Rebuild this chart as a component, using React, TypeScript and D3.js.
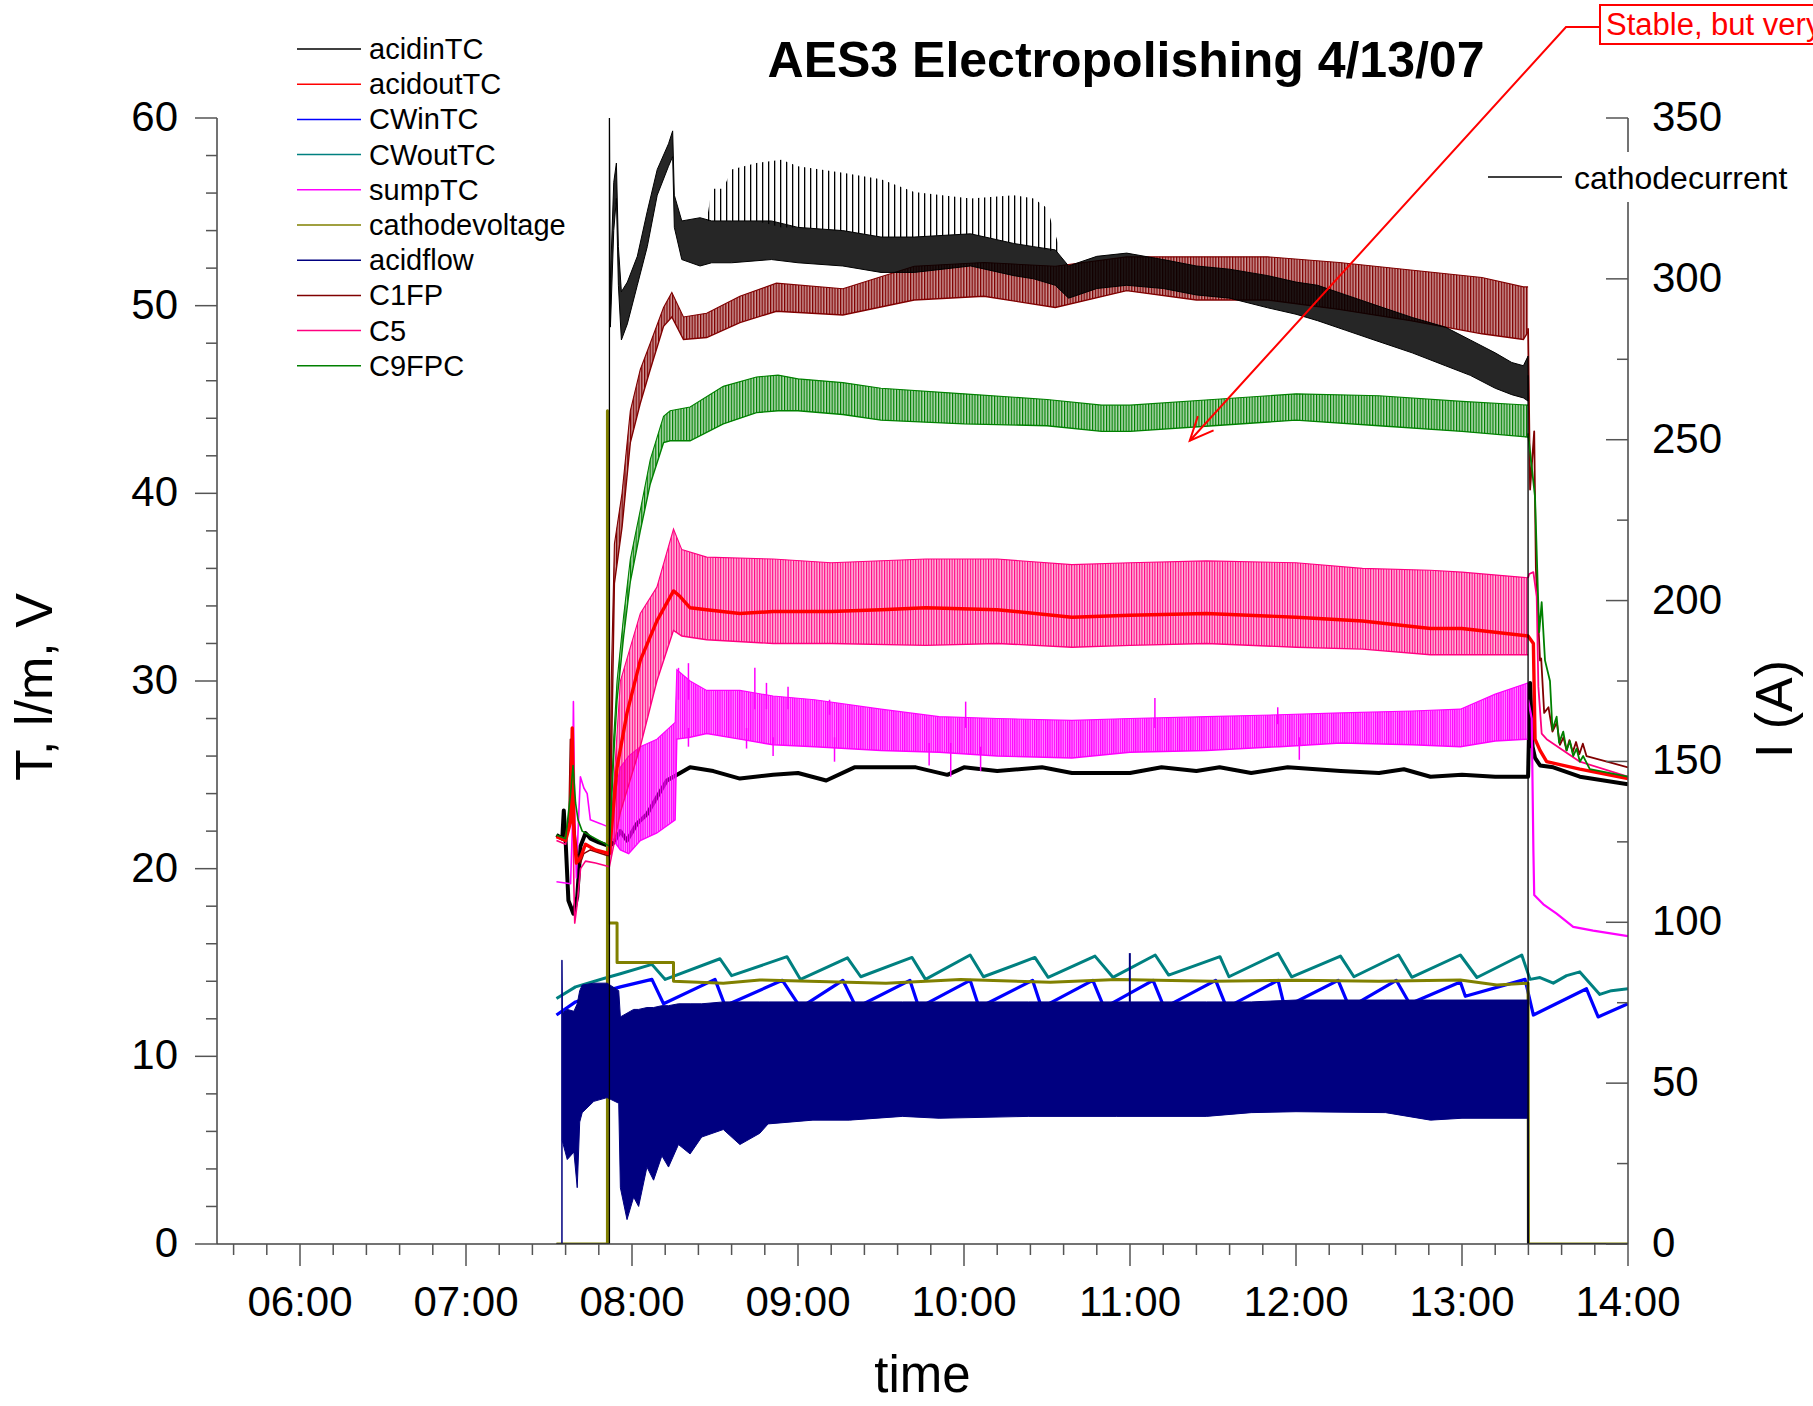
import * as d3 from 'd3';

type Pt = [number, number];
type Band = [number, number, number]; // time (h), low, high

// ---- axes ----
const hourTicks = [6, 7, 8, 9, 10, 11, 12, 13, 14];
const hourLabels = ['06:00', '07:00', '08:00', '09:00', '10:00', '11:00', '12:00', '13:00', '14:00'];
const leftTicks = [0, 10, 20, 30, 40, 50, 60];
const rightTicks = [0, 50, 100, 150, 200, 250, 300, 350];

const legendNames = ['acidinTC', 'acidoutTC', 'CWinTC', 'CWoutTC', 'sumpTC', 'cathodevoltage', 'acidflow', 'C1FP', 'C5', 'C9FPC'];
const legendColors = ['#000000', '#ff0000', '#0000ff', '#008080', '#ff00ff', '#808000', '#000080', '#800000', '#ff0080', '#008000'];

// ---- series (time in decimal hours, left axis unless noted) ----
const acidinTC: Pt[] = [
  [7.545, 21.8], [7.58, 21.6], [7.589, 23.1], [7.6, 21.5], [7.617, 18.3], [7.647, 17.6], [7.67, 18.5],
  [7.69, 21.2], [7.72, 21.9], [7.75, 21.6], [7.8, 21.4], [7.864, 21.2], [7.89, 21.4], [7.93, 22.0],
  [7.97, 21.5], [8.03, 22.4], [8.09, 22.9], [8.15, 23.8], [8.21, 24.7], [8.29, 25.1], [8.35, 25.4],
  [8.49, 25.2], [8.65, 24.8], [8.85, 25.0], [9.0, 25.1], [9.17, 24.7], [9.34, 25.4], [9.71, 25.4],
  [9.9, 25.0], [10.0, 25.4], [10.2, 25.2], [10.47, 25.4], [10.65, 25.1], [11.0, 25.1], [11.19, 25.4],
  [11.4, 25.2], [11.54, 25.4], [11.73, 25.1], [11.95, 25.4], [12.27, 25.2], [12.5, 25.1], [12.65, 25.3],
  [12.81, 24.9], [13.0, 25.0], [13.2, 24.9], [13.398, 24.9], [13.41, 29.9], [13.425, 26.5], [13.44, 25.9],
  [13.47, 25.5], [13.55, 25.4], [13.71, 24.9], [14.0, 24.5]
];

const acidoutTC: Pt[] = [
  [7.545, 21.7], [7.6, 21.5], [7.63, 22.5], [7.64, 27.5], [7.65, 22.0], [7.665, 20.3], [7.69, 20.6],
  [7.72, 21.3], [7.78, 21.0], [7.864, 20.8], [7.87, 21.5], [7.91, 25.4], [7.97, 28.3], [8.05, 31.1],
  [8.15, 33.2], [8.25, 34.8], [8.29, 34.5], [8.35, 33.9], [8.45, 33.8], [8.65, 33.6], [8.85, 33.7],
  [9.2, 33.7], [9.5, 33.8], [9.77, 33.9], [10.2, 33.8], [10.65, 33.4], [11.0, 33.5], [11.46, 33.6],
  [12.0, 33.4], [12.4, 33.2], [12.81, 32.8], [13.0, 32.8], [13.2, 32.6], [13.398, 32.4], [13.43, 32.0],
  [13.44, 26.9], [13.47, 26.3], [13.51, 25.7], [13.71, 25.3], [14.0, 24.8]
];

const cwinTC: Pt[] = [
  [7.545, 12.2], [7.66, 12.9], [7.85, 13.5], [7.93, 13.7], [8.12, 14.1], [8.19, 12.8], [8.5, 14.1],
  [8.56, 12.7], [8.906, 14.05], [9.015, 12.6], [9.27, 14.05], [9.351, 12.6], [9.674, 14.05], [9.728, 12.6],
  [10.037, 14.05], [10.091, 12.6], [10.413, 14.05], [10.467, 12.6], [10.776, 14.05], [10.844, 12.6],
  [11.139, 14.05], [11.206, 12.6], [11.516, 14.05], [11.582, 12.6], [11.892, 14.05], [11.932, 12.6],
  [12.254, 14.05], [12.322, 12.6], [12.604, 14.05], [12.685, 12.8], [12.99, 13.96], [13.02, 13.2],
  [13.38, 14.1], [13.43, 12.2], [13.75, 13.6], [13.82, 12.1], [14.0, 12.8]
];

const cwoutTC: Pt[] = [
  [7.545, 13.08], [7.66, 13.7], [7.85, 14.2], [7.93, 14.4], [8.12, 14.9], [8.2, 14.1], [8.53, 15.2],
  [8.6, 14.3], [8.934, 15.31], [9.015, 14.1], [9.298, 15.25], [9.378, 14.24], [9.687, 15.27], [9.768, 14.1],
  [10.037, 15.4], [10.117, 14.24], [10.427, 15.27], [10.507, 14.21], [10.789, 15.34], [10.897, 14.21],
  [11.152, 15.4], [11.233, 14.33], [11.542, 15.31], [11.596, 14.24], [11.892, 15.49], [11.973, 14.24],
  [12.268, 15.34], [12.349, 14.24], [12.618, 15.4], [12.698, 14.21], [12.99, 15.4], [13.09, 14.2],
  [13.36, 15.4], [13.41, 14.1], [13.47, 14.2], [13.55, 13.9], [13.63, 14.3], [13.71, 14.5], [13.83, 13.3],
  [13.9, 13.5], [14.0, 13.6]
];

const sumpPre: Pt[] = [
  [7.545, 19.3], [7.63, 19.2], [7.64, 22.0], [7.647, 28.9], [7.655, 23.0], [7.665, 19.5], [7.675, 22.0],
  [7.689, 24.9], [7.71, 24.3], [7.73, 24.0], [7.749, 22.6], [7.81, 22.4], [7.864, 22.2]
];
const sumpBand: Band[] = [
  [7.864, 21.8, 22.6], [7.93, 21.0, 25.4], [7.98, 20.8, 26.0], [8.05, 21.5, 26.5], [8.15, 21.9, 26.9],
  [8.26, 22.6, 27.8], [8.27, 26.9, 30.6], [8.35, 27.0, 30.0], [8.45, 27.2, 29.5], [8.65, 26.9, 29.5],
  [8.85, 26.6, 29.2], [9.1, 26.5, 29.0], [9.5, 26.3, 28.5], [9.85, 26.2, 28.1], [10.2, 26.0, 28.0],
  [10.65, 25.9, 27.9], [11.0, 26.2, 28.0], [11.46, 26.3, 28.1], [11.9, 26.5, 28.2], [12.27, 26.7, 28.3],
  [12.7, 26.6, 28.4], [12.99, 26.5, 28.5], [13.2, 26.8, 29.3], [13.398, 26.9, 29.9]
];
const sumpSpikes: Band[] = [
  [8.28, 29.0, 30.7], [8.34, 29.0, 30.95], [8.74, 28.5, 30.7], [8.81, 28.5, 29.9], [8.94, 28.5, 29.7],
  [9.19, 28.2, 29.0], [10.01, 27.5, 28.9], [11.15, 27.5, 29.1], [11.89, 27.7, 28.6], [8.34, 26.5, 27.5],
  [8.69, 26.4, 27.5], [8.85, 26.0, 27.0], [9.22, 25.7, 27.0], [9.79, 25.5, 26.7], [9.92, 24.9, 26.7],
  [10.1, 25.2, 26.5], [12.02, 25.8, 27.0]
];
const sumpPost: Pt[] = [
  [13.398, 29.0], [13.42, 28.0], [13.43, 21.0], [13.435, 18.6], [13.49, 18.1], [13.57, 17.6],
  [13.67, 16.9], [13.79, 16.7], [14.0, 16.4]
];

const cathodevoltage: Pt[] = [
  [7.545, 0], [7.852, 0], [7.852, 44.4], [7.858, 17.1], [7.91, 17.1], [7.91, 15.0], [8.25, 15.0],
  [8.25, 14.0], [8.55, 13.9], [8.77, 14.07], [9.53, 13.9], [9.98, 14.1], [10.52, 13.95], [10.92, 14.1],
  [11.5, 14.0], [12.0, 14.05], [12.5, 14.0], [12.99, 14.07], [13.21, 13.8], [13.398, 13.9], [13.4, 0], [14.0, 0]
];

const acidflowPre: Pt[] = [[7.545, 0], [7.578, 0], [7.578, 15.1], [7.58, 12.3]];
const acidflowBand: Band[] = [
  [7.58, 5.5, 12.3], [7.61, 4.5, 12.5], [7.65, 4.9, 12.4], [7.67, 3.0, 12.8], [7.685, 6.5, 13.5],
  [7.7, 7.0, 13.8], [7.77, 7.6, 13.9], [7.85, 7.8, 13.9], [7.92, 7.5, 13.5], [7.93, 3.0, 12.1],
  [7.97, 1.3, 12.3], [8.01, 2.5, 12.5], [8.04, 2.0, 12.5], [8.09, 4.1, 12.6], [8.13, 3.4, 12.6],
  [8.18, 4.7, 12.7], [8.22, 4.1, 12.7], [8.28, 5.3, 12.8], [8.35, 4.8, 12.8], [8.42, 5.7, 12.8],
  [8.55, 6.1, 12.9], [8.65, 5.3, 12.9], [8.77, 5.9, 12.9], [8.82, 6.4, 12.9], [9.09, 6.6, 12.9],
  [9.31, 6.6, 12.9], [9.63, 6.8, 12.9], [9.85, 6.7, 12.9], [10.39, 6.8, 12.9], [10.92, 6.8, 12.9],
  [11.46, 6.8, 12.9], [11.73, 7.0, 12.9], [12.0, 7.05, 13.0], [12.54, 7.0, 13.0], [12.81, 6.6, 13.0],
  [13.0, 6.7, 13.0], [13.398, 6.7, 13.0]
];
const acidflowPost: Pt[] = [[13.398, 6.7], [13.398, 0], [14.0, 0]];
const acidflowSpike: Pt[] = [[10.999, 12.9], [10.999, 15.5]];

const c1fpPre: Pt[] = [
  [7.545, 21.7], [7.59, 21.5], [7.62, 22.5], [7.629, 26.9], [7.64, 23.5], [7.669, 20.8], [7.689, 20.3],
  [7.709, 20.8], [7.749, 21.0], [7.85, 20.7], [7.864, 20.7]
];
const c1fpBand: Band[] = [
  [7.864, 20.6, 21.0], [7.875, 25.0, 30.0], [7.894, 35.2, 37.3], [7.94, 38.2, 40.0], [7.99, 42.7, 44.4],
  [8.05, 44.8, 46.6], [8.11, 46.6, 48.0], [8.19, 48.9, 49.9], [8.24, 49.4, 50.7], [8.31, 48.2, 49.4],
  [8.45, 48.3, 49.6], [8.65, 49.1, 50.5], [8.87, 49.7, 51.2], [9.27, 49.5, 50.9], [9.7, 50.3, 52.1],
  [10.12, 50.5, 52.3], [10.55, 49.9, 52.1], [10.98, 50.8, 52.6], [11.4, 50.3, 52.6], [11.83, 50.3, 52.6],
  [12.26, 49.8, 52.3], [12.69, 49.2, 51.9], [13.12, 48.5, 51.5], [13.37, 48.2, 51.0], [13.398, 48.6, 51.0]
];
const c1fpPost: Pt[] = [
  [13.398, 48.8], [13.41, 40.2], [13.435, 43.3], [13.445, 36.0], [13.47, 31.1], [13.477, 31.2],
  [13.495, 28.3], [13.521, 28.6], [13.545, 27.3], [13.571, 27.8], [13.59, 26.6], [13.611, 27.0],
  [13.63, 26.3], [13.647, 26.85], [13.667, 26.2], [13.687, 26.75], [13.707, 26.1], [13.728, 26.66],
  [13.75, 26.0], [14.0, 25.4]
];

const c5Pre: Pt[] = [
  [7.545, 21.5], [7.6, 21.3], [7.635, 23.0], [7.642, 26.0], [7.65, 19.0], [7.655, 17.1], [7.668, 18.0],
  [7.69, 20.0], [7.72, 20.4], [7.78, 20.3], [7.864, 20.1]
];
const c5Band: Band[] = [
  [7.864, 20.1, 20.4], [7.88, 20.8, 23.0], [7.93, 23.0, 30.0], [8.05, 26.5, 33.6], [8.15, 30.0, 35.0],
  [8.25, 32.7, 38.1], [8.3, 32.4, 37.0], [8.45, 32.2, 36.6], [8.85, 32.0, 36.5], [9.2, 32.0, 36.3],
  [9.77, 31.9, 36.5], [10.2, 32.0, 36.5], [10.65, 31.8, 36.2], [11.0, 31.9, 36.3], [11.46, 32.0, 36.4],
  [12.0, 31.8, 36.3], [12.4, 31.7, 36.0], [12.81, 31.4, 35.9], [13.0, 31.4, 35.8], [13.398, 31.4, 35.5]
];
const c5Post: Pt[] = [
  [13.398, 35.5], [13.405, 35.7], [13.43, 35.8], [13.45, 34.5], [13.46, 29.7], [13.48, 27.2],
  [13.51, 26.9], [13.71, 25.7], [14.0, 24.9]
];

const c9fpcPre: Pt[] = [
  [7.545, 21.8], [7.6, 21.6], [7.63, 24.0], [7.645, 25.5], [7.66, 23.5], [7.675, 22.6], [7.7, 22.0],
  [7.78, 21.6], [7.864, 21.2]
];
const c9fpcBand: Band[] = [
  [7.864, 21.1, 21.4], [7.89, 26.0, 27.0], [7.91, 29.0, 30.0], [7.95, 32.4, 33.5], [7.99, 35.3, 36.5],
  [8.05, 38.0, 39.1], [8.11, 40.5, 41.8], [8.19, 42.7, 44.1], [8.23, 42.8, 44.4], [8.35, 42.8, 44.6],
  [8.55, 43.7, 45.7], [8.75, 44.3, 46.2], [8.88, 44.4, 46.3], [9.0, 44.4, 46.1], [9.27, 44.2, 45.9],
  [9.5, 43.9, 45.6], [10.0, 43.7, 45.3], [10.5, 43.6, 45.0], [10.83, 43.3, 44.7], [11.0, 43.3, 44.7],
  [11.5, 43.6, 45.0], [12.0, 43.9, 45.3], [12.5, 43.6, 45.2], [13.0, 43.3, 44.9], [13.398, 43.0, 44.7]
];
const c9fpcPost: Pt[] = [
  [13.398, 43.2], [13.44, 39.8], [13.455, 35.4], [13.465, 32.6], [13.48, 34.2], [13.5, 31.1],
  [13.53, 30.0], [13.545, 27.4], [13.57, 28.1], [13.585, 26.7], [13.61, 27.3], [13.63, 26.3],
  [13.65, 26.8], [13.67, 26.0], [13.69, 26.4], [13.71, 25.7], [13.73, 26.0], [13.77, 25.3], [14.0, 24.9]
];

// cathodecurrent, right axis (A)
const currentPre: Pt[] = [[7.545, 0], [7.864, 0], [7.864, 350], [7.868, 300], [7.87, 292]];
const currentBand: Band[] = [
  [7.87, 285, 300], [7.89, 315, 330], [7.906, 325, 336], [7.918, 298, 310], [7.936, 281, 296],
  [7.972, 286, 299], [8.032, 298, 307], [8.092, 310, 321], [8.152, 326, 334], [8.22, 335, 342],
  [8.245, 338, 346], [8.255, 316, 326], [8.3, 306, 318], [8.41, 304, 319], [8.48, 305, 318],
  [8.6, 305, 318], [8.84, 306, 318], [9.0, 305, 316], [9.27, 304, 315], [9.5, 302, 313], [9.7, 302, 313],
  [10.04, 304, 314], [10.3, 301, 311], [10.42, 300, 310], [10.55, 298, 309], [10.63, 294, 304],
  [10.8, 297, 307], [10.98, 298, 308], [11.2, 297, 306], [11.4, 295, 304], [11.6, 294, 303],
  [11.83, 291, 301], [12.0, 289, 299], [12.13, 287, 298], [12.3, 284, 295], [12.47, 281, 292],
  [12.7, 277, 288], [12.9, 273, 285], [13.05, 270, 281], [13.2, 266, 277], [13.3, 264, 274],
  [13.37, 263, 273], [13.398, 262, 276]
];
const currentSpikes: Band[] = [
  [8.45, 318, 318], [8.48, 318, 328], [8.55, 318, 328], [8.6, 318, 334], [8.75, 318, 336], [8.9, 316, 337],
  [9.0, 316, 335], [9.27, 315, 333], [9.5, 313, 331], [9.7, 313, 327], [10.04, 314, 325], [10.3, 311, 326],
  [10.42, 310, 325], [10.5, 309, 322], [10.58, 308, 309]
];
const currentPost: Pt[] = [[13.398, 270], [13.398, 0], [14.0, 0]];

// annotation target (time, left value)
const noteTarget: Pt = [11.36, 42.8];

const FONT = 'Liberation Sans, Arial, Helvetica, sans-serif';

// striped fill that imitates the dense oscillation of the fast-cycling traces
const stripes = [
  { id: 'st-c1', color: '#800000', pitch: 2.8, w: 1.3 },
  { id: 'st-c5', color: '#ff0080', pitch: 2.6, w: 1.1 },
  { id: 'st-c9', color: '#008000', pitch: 2.8, w: 1.2 },
  { id: 'st-sp', color: '#ff00ff', pitch: 2.2, w: 1.2 }
];

export default function App() {
  const L = 217, R = 1628, T = 118, B = 1244;
  const x = d3.scaleLinear().domain([5.5, 14]).range([L, R]);
  const yL = d3.scaleLinear().domain([0, 60]).range([B, T]);
  const yR = d3.scaleLinear().domain([0, 350]).range([B, T]);

  const lineL = d3.line<Pt>().x(d => x(d[0])).y(d => yL(d[1]));
  const lineR = d3.line<Pt>().x(d => x(d[0])).y(d => yR(d[1]));
  const bandL = d3.area<Band>().x(d => x(d[0])).y0(d => yL(d[1])).y1(d => yL(d[2]));
  const bandR = d3.area<Band>().x(d => x(d[0])).y0(d => yR(d[1])).y1(d => yR(d[2]));
  const loL = d3.line<Band>().x(d => x(d[0])).y(d => yL(d[1]));
  const hiL = d3.line<Band>().x(d => x(d[0])).y(d => yL(d[2]));

  const xMinor = d3.range(28, 71).filter(i => i % 5 !== 0).map(i => i / 5);
  const lMinor = d3.range(0, 61, 2).filter(v => v % 10 !== 0);
  const rMinor = d3.range(25, 350, 50);

  const band = (data: Band[], color: string, op: number, pat: string, key: string) => (
    <g key={key}>
      <path d={bandL(data) || ''} fill={color} fillOpacity={op} stroke="none" />
      <path d={bandL(data) || ''} fill={`url(#${pat})`} stroke="none" />
      <path d={loL(data) || ''} fill="none" stroke={color} strokeWidth={1.4} />
      <path d={hiL(data) || ''} fill="none" stroke={color} strokeWidth={1.1} />
    </g>
  );
  const ln = (data: Pt[], color: string, w: number, key: string, right = false) => (
    <path key={key} d={(right ? lineR(data) : lineL(data)) || ''} fill="none" stroke={color}
      strokeWidth={w} strokeLinejoin="round" />
  );

  // annotation geometry
  const tipX = x(noteTarget[0]);
  const tipY = yL(noteTarget[1]);
  const elbowX = 1566, elbowY = 27;
  const ang = Math.atan2(tipY - elbowY, tipX - elbowX);
  const head = 26, spread = 0.42;
  const h1 = [tipX - head * Math.cos(ang - spread), tipY - head * Math.sin(ang - spread)];
  const h2 = [tipX - head * Math.cos(ang + spread), tipY - head * Math.sin(ang + spread)];

  return (
    <div style={{ position: 'absolute', left: 0, top: 0 }}>
      <svg xmlns="http://www.w3.org/2000/svg" width={1813} height={1406} style={{ display: 'block', background: '#fff' }}
        fontFamily={FONT}>
        <defs>
          <clipPath id="plot">
            <rect x={L} y={T} width={R - L} height={B - T} />
          </clipPath>
          <pattern id="spk" width={6} height={20} patternUnits="userSpaceOnUse">
            <rect x={0} y={0} width={1.3} height={20} fill="#000" />
          </pattern>
          {stripes.map(s => (
            <pattern key={s.id} id={s.id} width={s.pitch} height={20} patternUnits="userSpaceOnUse">
              <rect x={0} y={0} width={s.w} height={20} fill={s.color} />
            </pattern>
          ))}
        </defs>

        <g clipPath="url(#plot)">
          {ln(acidinTC, '#000000', 4, 'ain')}
          {ln(cwinTC, '#0000ff', 3.2, 'cwin')}
          {ln(cwoutTC, '#008080', 3, 'cwout')}
          {ln(sumpPre, '#ff00ff', 1.6, 'sp0')}
          {band(sumpBand, '#ff00ff', 0.45, 'st-sp', 'sp1')}
          {sumpSpikes.map((s, i) => (
            <line key={'ss' + i} x1={x(s[0])} x2={x(s[0])} y1={yL(s[1])} y2={yL(s[2])} stroke="#ff00ff" strokeWidth={1.5} />
          ))}
          {ln(sumpPost, '#ff00ff', 2.2, 'sp2')}
          {ln(cathodevoltage, '#808000', 3, 'cv')}
          {ln(acidflowPre, '#000080', 1.5, 'af0')}
          <path d={bandL(acidflowBand) || ''} fill="#000080" stroke="#000080" strokeWidth={1} />
          {ln(acidflowPost, '#000080', 1.5, 'af2')}
          {ln(acidflowSpike, '#000080', 2, 'af3')}
          {ln(c1fpPre, '#800000', 1.6, 'c10')}
          {band(c1fpBand, '#800000', 0.4, 'st-c1', 'c11')}
          {ln(c1fpPost, '#800000', 1.8, 'c12')}
          {ln(c5Pre, '#ff0080', 1.6, 'c50')}
          {band(c5Band, '#ff0080', 0.28, 'st-c5', 'c51')}
          {ln(c5Post, '#ff0080', 1.8, 'c52')}
          {ln(acidoutTC, '#ff0000', 3.4, 'aout')}
          {ln(c9fpcPre, '#008000', 1.6, 'c90')}
          {band(c9fpcBand, '#008000', 0.3, 'st-c9', 'c91')}
          {ln(c9fpcPost, '#008000', 1.8, 'c92')}
          {/* cathodecurrent on right axis */}
          <path d={bandR(currentSpikes) || ''} fill="url(#spk)" stroke="none" />
          <path d={bandR(currentBand) || ''} fill="#000" fillOpacity={0.85} stroke="#000" strokeWidth={1} />
          {ln(currentPre, '#000000', 1.3, 'cc0', true)}
          {ln(currentPost, '#000000', 1.3, 'cc2', true)}
        </g>

        {/* left axis */}
        <line x1={L} x2={L} y1={T} y2={B} stroke="#444" strokeWidth={1.5} />
        {leftTicks.map(v => (
          <g key={'lt' + v}>
            <line x1={L - 22} x2={L} y1={yL(v)} y2={yL(v)} stroke="#555" strokeWidth={1.5} />
            <text x={178} y={yL(v) + 13} fontSize={42} textAnchor="end">{v}</text>
          </g>
        ))}
        {lMinor.map(v => (
          <line key={'lm' + v} x1={L - 11} x2={L} y1={yL(v)} y2={yL(v)} stroke="#555" strokeWidth={1.5} />
        ))}

        {/* right axis */}
        <line x1={R} x2={R} y1={T} y2={B} stroke="#444" strokeWidth={1.5} />
        {rightTicks.map(v => (
          <g key={'rt' + v}>
            <line x1={R - 22} x2={R} y1={yR(v)} y2={yR(v)} stroke="#555" strokeWidth={1.5} />
            <text x={1652} y={yR(v) + 13} fontSize={42}>{v}</text>
          </g>
        ))}
        {rMinor.map(v => (
          <line key={'rm' + v} x1={R - 11} x2={R} y1={yR(v)} y2={yR(v)} stroke="#555" strokeWidth={1.5} />
        ))}

        {/* bottom axis */}
        <line x1={L} x2={R} y1={B} y2={B} stroke="#444" strokeWidth={1.5} />
        {hourTicks.map((h, i) => (
          <g key={'xt' + h}>
            <line x1={x(h)} x2={x(h)} y1={B} y2={B + 22} stroke="#555" strokeWidth={1.5} />
            <text x={x(h)} y={1316} fontSize={42} textAnchor="middle">{hourLabels[i]}</text>
          </g>
        ))}
        {xMinor.map(h => (
          <line key={'xm' + h} x1={x(h)} x2={x(h)} y1={B} y2={B + 11} stroke="#555" strokeWidth={1.5} />
        ))}

        {/* axis titles */}
        <text x={(L + R) / 2} y={1392} fontSize={51} textAnchor="middle">time</text>
        <text transform="translate(52,687) rotate(-90)" fontSize={52} textAnchor="middle">T, l/m, V</text>
        <text transform="translate(1792,709) rotate(-90)" fontSize={52} textAnchor="middle">I (A)</text>

        {/* title */}
        <text x={1126} y={77} fontSize={50} fontWeight="bold" textAnchor="middle">AES3 Electropolishing 4/13/07</text>

        {/* left legend */}
        {legendNames.map((n, i) => (
          <g key={'lg' + n}>
            <line x1={297} x2={361} y1={49 + i * 35.2} y2={49 + i * 35.2} stroke={legendColors[i]} strokeWidth={1.5} />
            <text x={369} y={49 + i * 35.2 + 10} fontSize={29}>{n}</text>
          </g>
        ))}

        {/* right legend */}
        <rect x={1470} y={152} width={343} height={50} fill="#fff" />
        <line x1={1488} x2={1562} y1={177} y2={177} stroke="#000" strokeWidth={1.5} />
        <text x={1574} y={189} fontSize={32}>cathodecurrent</text>

        {/* annotation */}
        <path d={`M1600,${elbowY} H${elbowX} L${tipX},${tipY}`} fill="none" stroke="#ff0000" strokeWidth={2} />
        <path d={`M${h1[0]},${h1[1]} L${tipX},${tipY} L${h2[0]},${h2[1]}`} fill="none" stroke="#ff0000" strokeWidth={2} />
        <rect x={1600} y={5} width={400} height={39} fill="#fff" stroke="#ff0000" strokeWidth={2} />
        <text x={1606} y={35} fontSize={31} fill="#ff0000">Stable, but very noisy</text>
      </svg>
    </div>
  );
}
